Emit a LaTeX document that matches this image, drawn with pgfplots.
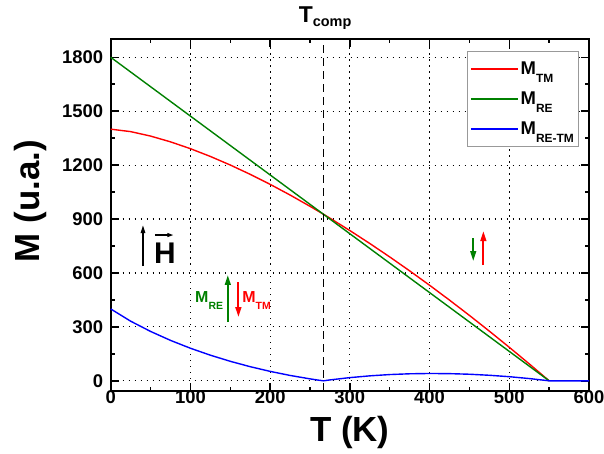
\documentclass[border=0pt]{standalone}
\usepackage{fontspec}
\setmainfont{Liberation Sans}
\usepackage{pgfplots}
\pgfplotsset{compat=1.18}
\usetikzlibrary{arrows.meta}
\definecolor{cred}{RGB}{255,0,0}
\definecolor{cgreen}{RGB}{0,128,0}
\definecolor{cblue}{RGB}{0,0,255}
\newcommand{\Msub}[1]{M\raisebox{-8bp}[0pt][0pt]{\fontsize{12}{12}\selectfont #1}}
\newcommand{\msub}[1]{M\raisebox{-7bp}{\fontsize{10.5}{11}\selectfont #1}}
\begin{document}
\begin{tikzpicture}
\useasboundingbox (-110.7bp,-63.3bp) rectangle (493.3bp,390.7bp);
\begin{axis}[
  at={(0,0)}, anchor=south west,
  scale only axis, width=478.3bp, height=351.4bp,
  clip=false,
  xmin=0, xmax=600, ymin=-55, ymax=1900,
  xtick={0,100,...,600}, ytick={0,300,...,1800},
  minor x tick num=1, minor y tick num=1,
  tick align=inside,
  major tick length=8bp, minor tick length=4bp,
  every tick/.style={black, line width=1.5bp},
  axis line style={line width=2bp},
  grid=major,
  major grid style={black, line width=1.2bp, dash pattern=on 1.2bp off 4.8bp},
  /pgf/number format/assume math mode=true,
  /pgf/number format/1000 sep={},
  tick label style={font=\fontsize{18.5}{20}\selectfont\bfseries},
  xticklabel style={yshift=3.9bp},
  yticklabel style={xshift=-4bp},
  xlabel={T (K)},
  ylabel={M (u.a.)},
  label style={font=\fontsize{35}{40}\selectfont\bfseries},
  xlabel style={at={(axis description cs:0.5,-0.12)}, anchor=center},
  ylabel style={at={(axis description cs:-0.167,0.539)}, anchor=center},
  legend style={at={(axis description cs:0.9797,0.966)}, anchor=north east,
    draw=gray!80, line width=0.8bp, font=\fontsize{18.5}{20}\selectfont\bfseries,
    row sep=12bp, inner xsep=3bp, inner ysep=8bp},
  legend cell align=left,
  legend image code/.code={\draw[#1, line width=1.6bp] (0bp,0bp) -- (47bp,0bp);},
]
\addplot[cred, line width=1.4bp] coordinates {
(0,1400) (25,1386.4) (50,1361.6) (75,1329.5) (100,1291.5) (125,1248.3) (150,1200.6)
(175,1148.7) (200,1093.0) (225,1033.7) (250,970.9) (267,926.5) (275,905.0) (300,836.0)
(325,764.0) (350,689.3) (375,611.8) (400,531.7) (425,449.0) (450,363.9) (475,276.3)
(500,186.5) (525,94.4) (550,0)};
\addlegendentry{\Msub{TM}}
\addplot[cgreen, line width=1.4bp] coordinates {
(0,1800) (100,1472.7) (200,1145.5) (267,926.2) (300,818.2) (400,490.9) (500,163.6) (550,0)};
\addlegendentry{\Msub{RE}}
\addplot[cblue, line width=1.4bp] coordinates {
(0,400) (25,331.8) (50,274.8) (75,225.0) (100,181.2) (125,142.6) (150,108.5) (175,78.6)
(200,52.5) (225,29.9) (250,10.9) (260,4.1) (267,0) (275,5.0) (300,17.8) (325,27.6)
(350,34.8) (375,39.1) (400,40.8) (425,39.9) (450,36.6) (475,30.8) (500,22.9) (525,12.6)
(550,0) (600,0)};
\addlegendentry{\Msub{RE-TM}}
\addplot[black, line width=1.5bp, dash pattern=on 8bp off 5bp, forget plot] coordinates {(267,-55) (267,1900)};
% T_comp label
\node[anchor=base, inner sep=0pt, font=\bfseries] at (axis cs:269,1900) [yshift=16.6bp]
  {\fontsize{23}{25}\selectfont T\raisebox{-4bp}{\fontsize{14.5}{15}\selectfont comp}};
% H field
\draw[black, line width=1.5bp, -{Triangle[length=8bp,width=4.5bp]}] (axis cs:40.5,638) -- (axis cs:40.5,866);
\node[anchor=base west, inner sep=0pt, font=\fontsize{30}{32}\selectfont\bfseries] at (axis cs:54.3,653) {H};
\draw[black, line width=1.2bp, -{Triangle[length=6bp,width=4bp]}] (axis cs:55.5,811) -- (axis cs:78.5,811);
% middle annotation
\node[anchor=base west, inner sep=0pt, text=cgreen, font=\fontsize{16}{18}\selectfont\bfseries] at (axis cs:105.8,438) {\msub{RE}};
\node[anchor=base west, inner sep=0pt, text=cred, font=\fontsize{16}{18}\selectfont\bfseries] at (axis cs:165,438) {\msub{TM}};
\draw[cgreen, line width=2bp, -{Triangle[length=10bp,width=5.7bp]}] (axis cs:146.9,327) -- (axis cs:146.9,589);
\draw[cred, line width=2bp, -{Triangle[length=10bp,width=5.7bp]}] (axis cs:160.2,549) -- (axis cs:160.2,354);
% right arrows
\draw[cgreen, line width=2bp, -{Triangle[length=10bp,width=5.7bp]}] (axis cs:454.8,794) -- (axis cs:454.8,666);
\draw[cred, line width=2bp, -{Triangle[length=10bp,width=5.7bp]}] (axis cs:467.5,644) -- (axis cs:467.5,833);
\end{axis}
\end{tikzpicture}
\end{document}
